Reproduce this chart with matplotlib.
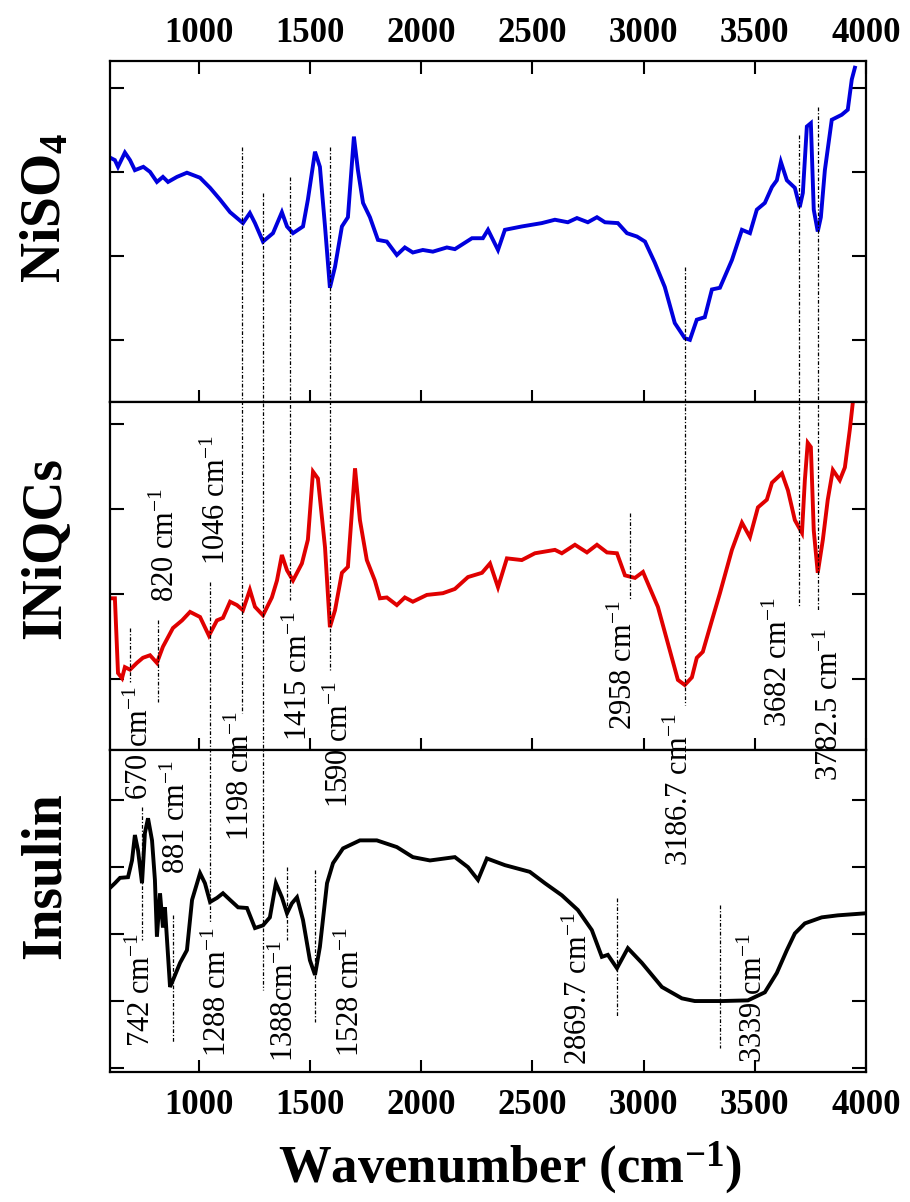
import matplotlib
matplotlib.use("Agg")
import matplotlib.pyplot as plt
from matplotlib.lines import Line2D
from matplotlib.transforms import blended_transform_factory

plt.rcParams["font.family"] = ["Liberation Serif", "DejaVu Serif"]
plt.rcParams["mathtext.fontset"] = "custom"
plt.rcParams["mathtext.rm"] = "Liberation Serif"
plt.rcParams["mathtext.it"] = "Liberation Serif:italic"
plt.rcParams["mathtext.bf"] = "Liberation Serif:bold"

# ── spectra (wavenumber, transmittance in arbitrary units) ──────────
niso4_wn = [600, 622, 636, 667, 690, 712, 750, 780, 811, 838, 861, 901, 946, 1005,
            1050, 1095, 1140, 1198, 1229, 1252, 1288, 1333, 1373, 1396, 1423, 1468,
            1490, 1522, 1544, 1567, 1589, 1612, 1643, 1670, 1697, 1715, 1738, 1769,
            1805, 1845, 1890, 1926, 1962, 2007, 2052, 2115, 2151, 2228, 2277, 2300,
            2345, 2376, 2452, 2542, 2601, 2659, 2700, 2749, 2790, 2826, 2884, 2925,
            2970, 3006, 3050, 3095, 3140, 3185, 3208, 3239, 3275, 3307, 3343, 3397,
            3442, 3478, 3509, 3545, 3577, 3599, 3617, 3644, 3680, 3702, 3716, 3734,
            3752, 3765, 3783, 3797, 3815, 3846, 3891, 3918, 3936, 3950]
niso4_t = [2.17, 2.14, 2.06, 2.23, 2.14, 2.02, 2.06, 2.00, 1.88, 1.94, 1.88, 1.94, 1.99, 1.93,
           1.81, 1.67, 1.52, 1.39, 1.51, 1.39, 1.17, 1.27, 1.52, 1.35, 1.27, 1.35,
           1.67, 2.24, 2.06, 1.35, 0.62, 0.87, 1.35, 1.46, 2.42, 2.02, 1.63, 1.46,
           1.19, 1.17, 1.01, 1.10, 1.04, 1.07, 1.05, 1.10, 1.08, 1.21, 1.21, 1.31,
           1.07, 1.31, 1.35, 1.39, 1.43, 1.40, 1.45, 1.40, 1.46, 1.40, 1.39, 1.27,
           1.23, 1.17, 0.92, 0.63, 0.20, 0.02, 0.00, 0.24, 0.27, 0.60, 0.62, 0.95,
           1.31, 1.27, 1.55, 1.63, 1.82, 1.90, 2.12, 1.90, 1.81, 1.58, 1.75, 2.54,
           2.58, 1.55, 1.29, 1.46, 2.02, 2.62, 2.68, 2.74, 3.10, 3.24]

iniqcs_wn = [609, 622, 636, 654, 667, 690, 721, 748, 780, 811, 838, 883, 924, 960,
             1005, 1045, 1081, 1108, 1140, 1171, 1198, 1229, 1252, 1288, 1328, 1351,
             1373, 1396, 1423, 1463, 1490, 1513, 1535, 1567, 1589, 1612, 1643, 1670,
             1702, 1724, 1755, 1791, 1814, 1845, 1890, 1926, 1962, 2025, 2097, 2151,
             2210, 2273, 2309, 2345, 2385, 2452, 2511, 2601, 2632, 2691, 2745, 2790,
             2835, 2880, 2916, 2961, 2997, 3064, 3109, 3154, 3185, 3217, 3239, 3266,
             3307, 3343, 3397, 3442, 3478, 3514, 3554, 3577, 3622, 3649, 3680, 3712,
             3725, 3738, 3752, 3765, 3783, 3806, 3828, 3851, 3882, 3905, 3927, 3941]
iniqcs_t = [0.95, 0.95, 0.07, 0.01, 0.14, 0.11, 0.19, 0.25, 0.28, 0.19, 0.38, 0.60, 0.69, 0.79,
            0.73, 0.51, 0.69, 0.72, 0.91, 0.87, 0.81, 1.05, 0.85, 0.75, 0.96, 1.16,
            1.46, 1.28, 1.16, 1.36, 1.64, 2.44, 2.36, 1.55, 0.61, 0.81, 1.25, 1.32,
            2.48, 1.87, 1.40, 1.16, 0.95, 0.96, 0.87, 0.96, 0.91, 0.99, 1.01, 1.06,
            1.20, 1.25, 1.36, 1.08, 1.42, 1.40, 1.48, 1.52, 1.48, 1.58, 1.49, 1.58,
            1.49, 1.48, 1.22, 1.19, 1.26, 0.85, 0.42, -0.01, -0.07, 0.02, 0.25, 0.32,
            0.69, 1.01, 1.52, 1.84, 1.67, 2.02, 2.11, 2.31, 2.42, 2.22, 1.87, 1.72,
            2.34, 2.78, 2.73, 1.75, 1.25, 1.64, 2.11, 2.46, 2.34, 2.49, 2.93, 3.26]

insulin_wn = [600, 622, 645, 681, 699, 712, 726, 744, 757, 771, 789, 802, 811, 825,
              838, 847, 870, 883, 915, 946, 969, 1005, 1027, 1050, 1081, 1108, 1140,
              1176, 1216, 1252, 1288, 1319, 1346, 1373, 1396, 1418, 1441, 1468, 1499,
              1522, 1544, 1576, 1603, 1648, 1724, 1800, 1890, 1962, 2039, 2151, 2210,
              2255, 2295, 2376, 2488, 2556, 2632, 2704, 2767, 2812, 2839, 2880, 2929,
              2992, 3082, 3172, 3230, 3352, 3469, 3545, 3599, 3644, 3680, 3725, 3801,
              3873, 3995]
insulin_t = [1.69, 1.76, 1.84, 1.85, 2.10, 2.48, 2.25, 1.76, 2.51, 2.73, 2.40, 1.81, 0.96, 1.61,
             1.10, 1.40, 0.21, 0.31, 0.57, 0.76, 1.51, 1.91, 1.76, 1.48, 1.54, 1.61, 1.51,
             1.40, 1.39, 1.09, 1.13, 1.25, 1.76, 1.55, 1.31, 1.46, 1.55, 1.21, 0.61,
             0.39, 0.81, 1.76, 2.06, 2.28, 2.40, 2.40, 2.30, 2.15, 2.10, 2.15, 2.00,
             1.81, 2.13, 2.03, 1.93, 1.76, 1.58, 1.36, 1.06, 0.66, 0.69, 0.49, 0.79,
             0.57, 0.21, 0.04, 0.00, 0.00, 0.01, 0.13, 0.42, 0.76, 1.01, 1.16, 1.25,
             1.28, 1.31]

# ── peak markers: (wavenumber, top px, bottom px) ───────────────────
peak_lines = [
    (690, 628, 682), (816, 620, 702), (1050, 582, 922), (1194, 147, 713),
    (1288, 193, 990), (1409, 177, 600), (1589, 147, 670), (3185, 267, 705),
    (3698, 135, 607), (3783, 107, 610), (2938, 513, 600), (744, 807, 940),
    (883, 915, 1043), (1396, 867, 940), (1522, 870, 1022), (2880, 898, 1017),
    (3343, 905, 1048),
]

# ── peak labels: (text, x in wavenumber, y centre px) ──────────────
peak_labels = [
    ("670 cm$^{-1}$", 735, 743), ("820 cm$^{-1}$", 852, 545),
    ("1046 cm$^{-1}$", 1081, 500), ("1198 cm$^{-1}$", 1189, 776),
    ("1415 cm$^{-1}$", 1454, 676), ("1590 cm$^{-1}$", 1634, 744),
    ("742 cm$^{-1}$", 744, 990), ("881 cm$^{-1}$", 901, 817),
    ("1288 cm$^{-1}$", 1086, 992), ("1388cm$^{-1}$", 1391, 1001),
    ("1528 cm$^{-1}$", 1684, 992), ("2958 cm$^{-1}$", 2915, 665),
    ("3186.7 cm$^{-1}$", 3167, 790), ("3682 cm$^{-1}$", 3612, 662),
    ("3782.5 cm$^{-1}$", 3842, 705), ("2869.7 cm$^{-1}$", 2713, 989),
    ("3339 cm$^{-1}$", 3500, 998),
]

W, H = 910, 1202
x_ticks = [1000, 1500, 2000, 2500, 3000, 3500, 4000]


def _frac(px):
    return 1 - px / H


fig = plt.figure(figsize=(W / 100, H / 100), dpi=100)
fig.patch.set_facecolor("white")

left, width = 110 / W, 756 / W
panels = [
    # (top px, bottom px, ylim, yticks, wn, t, colour, label, label y px)
    (61, 402, (-0.74, 3.32), [0, 1, 2, 3], niso4_wn, niso4_t, "#0000dd",
     r"NiSO$_\mathbf{4}$", 208),
    (402, 750, (-0.835, 3.26), [0, 1, 2, 3], iniqcs_wn, iniqcs_t, "#e00000",
     "INiQCs", 548),
    (750, 1072, (-1.06, 3.75), [-1, 0, 1, 2, 3], insulin_wn, insulin_t, "#000000",
     "Insulin", 876),
]

axes = []
for i, (top, bot, ylim, yt, wn, t, col, lab, ly) in enumerate(panels):
    ax = fig.add_axes([left, _frac(bot), width, (bot - top) / H])
    ax.plot(wn, t, color=col, lw=2.8, solid_joinstyle="miter")
    ax.set_xlim(600, 4000)
    ax.set_ylim(*ylim)
    ax.set_yticks(yt)
    ax.set_xticks(x_ticks)
    ax.tick_params(axis="y", direction="in", left=True, right=True,
                   labelleft=False, length=10, width=1.5)
    ax.tick_params(axis="x", direction="in", bottom=True, top=(i == 0),
                   labelbottom=(i == 2), labeltop=(i == 0), length=9, width=1.5,
                   labelsize=25, pad=12 if i == 2 else 8)
    for lbl in ax.get_xticklabels():
        lbl.set_fontweight("bold")
    for sp in ax.spines.values():
        sp.set_linewidth(1.6)
    fig.text(46 / W, _frac(ly), lab, rotation=90, ha="center", va="center",
             fontsize=40, fontweight="bold")
    axes.append(ax)

# dotted peak markers spanning panels
trans = blended_transform_factory(axes[0].transData, fig.transFigure)
for wn, y0, y1 in peak_lines:
    fig.add_artist(Line2D([wn, wn], [_frac(y0), _frac(y1)], transform=trans,
                          color="black", lw=0.9, ls=(0, (3, 1.5, 1, 1.5))))

for txt, wn, yc in peak_labels:
    fig.text(wn, _frac(yc), txt, transform=trans, rotation=90,
             ha="center", va="center", fontsize=22)

fig.text(0.56, _frac(1168), r"Wavenumber (cm$^{\mathbf{-1}}$)", ha="center",
         va="center", fontsize=38, fontweight="bold")

fig.savefig("out.png", dpi=100, facecolor="white")
